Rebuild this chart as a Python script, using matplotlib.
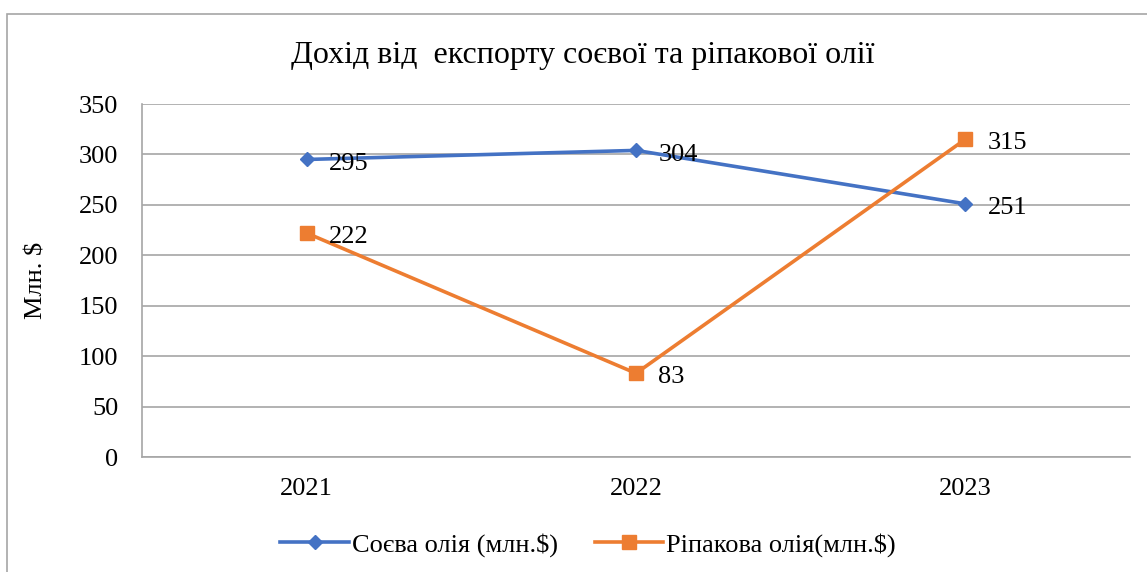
import matplotlib.pyplot as plt
from matplotlib.patches import Rectangle

plt.rcParams['font.family'] = ['Liberation Serif', 'DejaVu Serif']

years = ['2021', '2022', '2023']
soy = [295, 304, 251]
rapeseed = [222, 83, 315]
soy_label = 'Соєва олія (млн.$)'
rape_label = 'Ріпакова олія(млн.$)'

fig = plt.figure(figsize=(11.47, 5.72), dpi=100)
W, H = 1147, 572
ax = fig.add_axes([142 / W, 1 - 457 / H, (1130 - 142) / W, (457 - 104) / H])

# outer chart border (cropped on right/bottom)
fig.patches.append(Rectangle((7 / W, -0.05), 1.1, 1 - 14 / H + 0.05,
                             transform=fig.transFigure, fill=False,
                             edgecolor='#a6a6a6', linewidth=1.2))

x = list(range(len(years)))
ax.plot(x, soy, color='#4472C4', linewidth=2.6, marker='D', markersize=7.5,
        label=soy_label)
ax.plot(x, rapeseed, color='#ED7D31', linewidth=2.6, marker='s', markersize=10.5,
        label=rape_label)

fs = 19
for xi, v in zip(x, soy):
    ax.annotate(str(v), (xi, v), xytext=(16, -3), textcoords='offset points',
                ha='left', va='center', fontsize=fs)
for xi, v in zip(x, rapeseed):
    ax.annotate(str(v), (xi, v), xytext=(16, -3), textcoords='offset points',
                ha='left', va='center', fontsize=fs)

ax.set_xlim(-0.5, 2.5)
ax.set_ylim(0, 350)
ax.set_yticks(range(0, 351, 50))
ax.set_xticks(x)
ax.set_xticklabels(years)
ax.tick_params(axis='both', length=0, labelsize=fs)
ax.tick_params(axis='y', pad=17)
ax.tick_params(axis='x', pad=15)
ax.grid(axis='y', color='#a6a6a6', linewidth=1.2)
ax.set_axisbelow(True)
for side in ['top', 'right']:
    ax.spines[side].set_visible(False)
for side in ['left', 'bottom']:
    ax.spines[side].set_color('#a6a6a6')
    ax.spines[side].set_linewidth(1.2)

ax.set_ylabel('Млн. $', fontsize=19)
ax.yaxis.set_label_coords(-95 / (1130 - 142), 0.5)
fig.text(0.508, 1 - 55 / H, 'Дохід від  експорту соєвої та ріпакової олії',
         ha='center', va='center', fontsize=23)

fig.legend(loc='center', bbox_to_anchor=(588 / W, 1 - 545 / H), ncol=2,
           frameon=False, fontsize=fs, handlelength=2.6, columnspacing=1.4,
           handletextpad=0.1)

fig.savefig('out.png', dpi=100)
